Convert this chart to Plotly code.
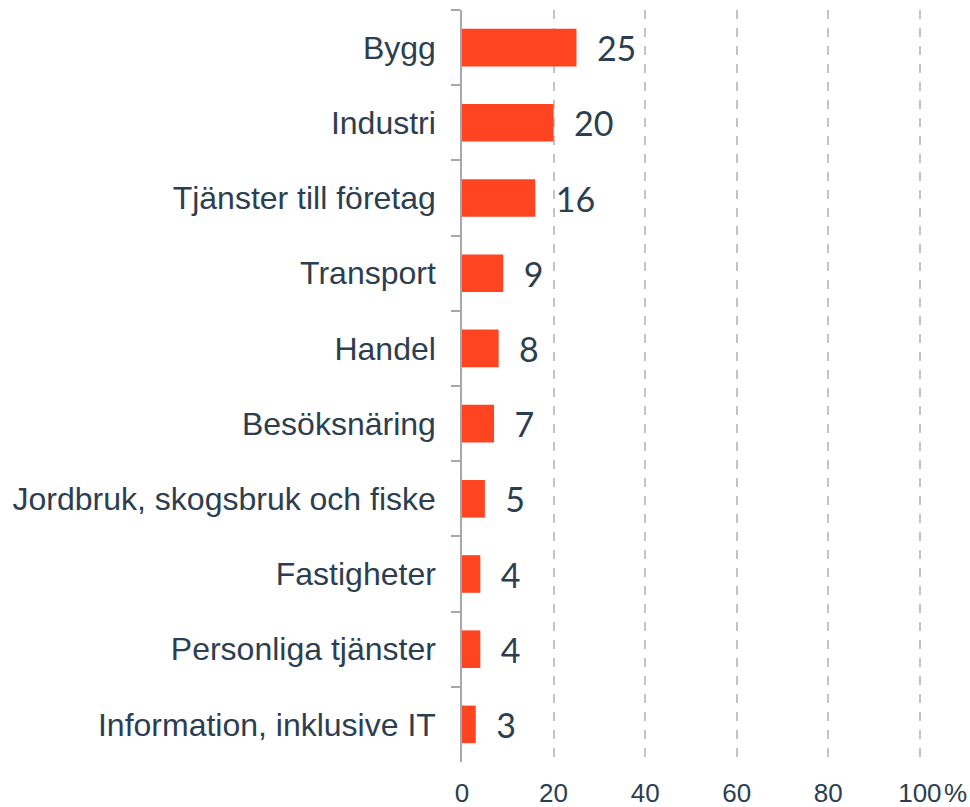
import plotly.graph_objects as go

categories = ["Bygg", "Industri", "Tjänster till företag", "Transport", "Handel",
              "Besöksnäring", "Jordbruk, skogsbruk och fiske", "Fastigheter",
              "Personliga tjänster", "Information, inklusive IT"]
values = [25, 20, 16, 9, 8, 7, 5, 4, 4, 3]
tick_vals = [0, 20, 40, 60, 80, 100]
tick_text = ["0", "20", "40", "60", "80", "100"]

text_color = "#2c3e50"
sans = "Liberation Sans, Arial, sans-serif"

fig = go.Figure(go.Bar(
    x=values, y=categories, orientation="h",
    marker=dict(color="#ff4422", line=dict(width=0)),
    text=values, texttemplate="  %{x}", textposition="outside",
    constraintext="none",
    textfont=dict(family="Lato, sans-serif", size=34, color=text_color),
    cliponaxis=False, hoverinfo="skip",
))

fig.update_layout(
    width=970, height=807,
    margin=dict(l=462, r=49, t=10, b=45, autoexpand=False),
    paper_bgcolor="white", plot_bgcolor="white",
    showlegend=False, bargap=0.5,
    font=dict(family=sans, color=text_color),
    xaxis=dict(range=[0, 100.25], tickvals=tick_vals, ticktext=tick_text,
               showgrid=True, gridcolor="#c4c4c4", griddash="dash", gridwidth=2,
               zeroline=False, showline=False, ticks="", automargin=False,
               ticklabelstandoff=13,
               tickfont=dict(size=26, color=text_color, family=sans)),
    yaxis=dict(autorange="reversed", showline=True, linecolor="#a8a8a8", linewidth=1.5,
               ticks="outside", tickson="boundaries", ticklen=9, tickcolor="#a8a8a8",
               tickwidth=1.5, showgrid=False, automargin=False,
               ticklabelstandoff=18,
               tickfont=dict(size=32, color=text_color, family=sans)),
)
fig.add_annotation(x=100, y=0, xref="x", yref="paper", text="%", showarrow=False,
                   xanchor="left", yanchor="middle", xshift=23, yshift=-31,
                   height=26, borderpad=0,
                   font=dict(size=26, color=text_color, family=sans))

fig.write_html("out.html", config={"displayModeBar": False},
               post_script="document.body.style.margin='0';")
